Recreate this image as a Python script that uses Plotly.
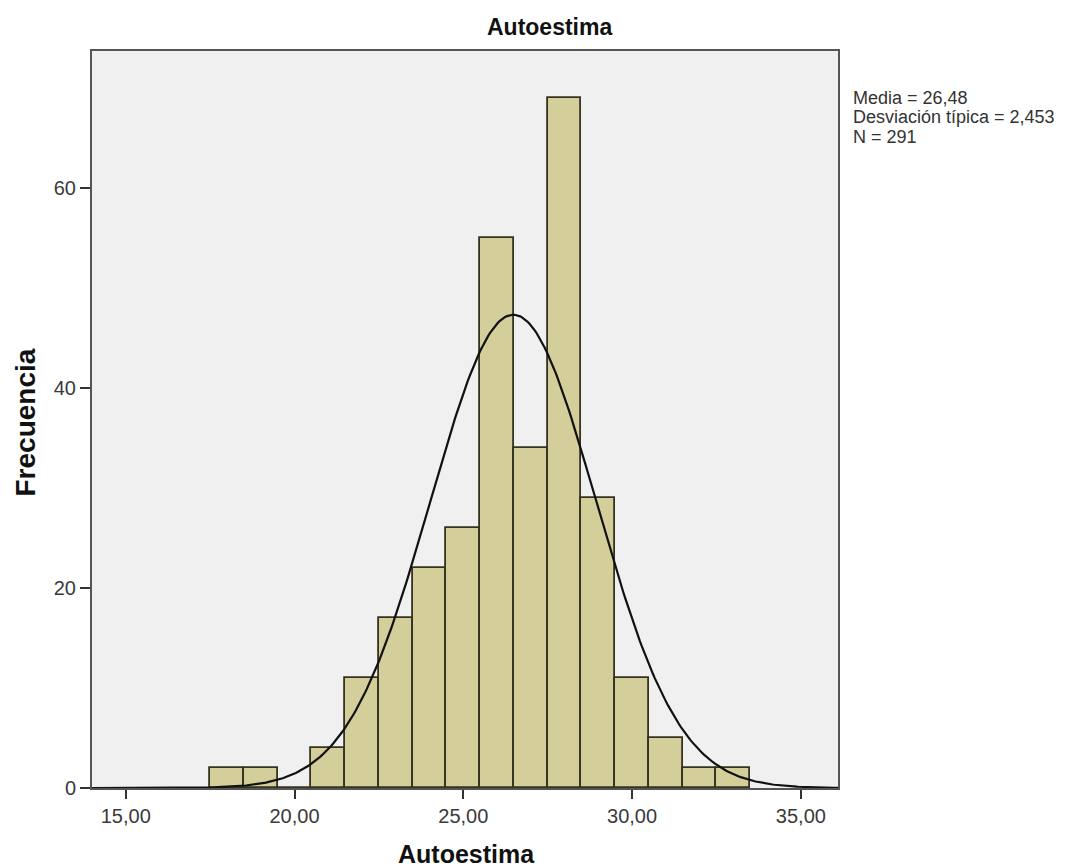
import numpy as np
import plotly.graph_objects as go

# Data
bin_centers = [18, 19, 20, 21, 22, 23, 24, 25, 26, 27, 28, 29, 30, 31, 32, 33]
frequencies = [2, 2, 0, 4, 11, 17, 22, 26, 55, 34, 69, 29, 11, 5, 2, 2]
x_tick_vals = [15, 20, 25, 30, 35]
x_tick_text = ["15,00", "20,00", "25,00", "30,00", "35,00"]
y_tick_vals = [0, 20, 40, 60]
mean_val = 26.48
sd_val = 2.453
n_val = 291
bin_width = 1.0
stats_lines = ["Media = 26,48", "Desviación típica = 2,453", "N = 291"]

X_RANGE = [14.0, 36.1]
Y_RANGE = [0, 73.7]

# Fitted normal curve from the reported statistics
xc = np.linspace(X_RANGE[0], X_RANGE[1], 400)
yc = n_val * bin_width / (sd_val * np.sqrt(2 * np.pi)) * np.exp(-0.5 * ((xc - mean_val) / sd_val) ** 2)

fig = go.Figure()
fig.add_trace(go.Bar(
    x=bin_centers, y=frequencies, width=bin_width,
    marker=dict(color="#d3ce9a", line=dict(color="#35331f", width=1.8)),
    hoverinfo="x+y",
))
fig.add_trace(go.Scatter(
    x=xc, y=yc, mode="lines", line=dict(color="#111111", width=2.2), hoverinfo="skip",
))

font_main = "Liberation Sans, Arial, sans-serif"

W, H = 1079, 868
ML, MR, MT, MB = 92, 241, 51, 80

fig.update_layout(
    width=W, height=H,
    margin=dict(l=ML, r=MR, t=MT, b=MB),
    paper_bgcolor="white", plot_bgcolor="#f0f0f0",
    showlegend=False, bargap=0,
    font=dict(family=font_main, color="#333333"),
)
fig.update_xaxes(
    range=X_RANGE, tickvals=x_tick_vals, ticktext=x_tick_text,
    ticks="outside", ticklen=9, tickwidth=2, tickcolor="#333333",
    tickfont=dict(size=20, color="#3a3a3a", family=font_main),
    showgrid=False, zeroline=False,
    showline=True, linecolor="#555555", linewidth=2, mirror=True,
)
fig.update_yaxes(
    range=Y_RANGE, tickvals=y_tick_vals,
    ticks="outside", ticklen=10, tickwidth=2, tickcolor="#333333",
    tickfont=dict(size=20, color="#3a3a3a", family=font_main),
    showgrid=False, zeroline=False,
    showline=True, linecolor="#555555", linewidth=2, mirror=True,
)

plot_h = H - MT - MB
plot_w = W - ML - MR

def py(px):
    return (H - MB - px) / plot_h

def px_(x):
    return (x - ML) / plot_w

annotations = [
    dict(text="<b>Autoestima</b>", x=px_(549), y=py(27), xref="paper", yref="paper",
         xanchor="center", yanchor="middle", showarrow=False,
         font=dict(size=23, color="#111111", family=font_main)),
    dict(text="<b>Autoestima</b>", x=px_(466.5), y=py(854), xref="paper", yref="paper",
         xanchor="center", yanchor="middle", showarrow=False,
         font=dict(size=25, color="#111111", family=font_main)),
    dict(text="<b>Frecuencia</b>", x=px_(25), y=py(422.5), xref="paper", yref="paper",
         xanchor="center", yanchor="middle", showarrow=False, textangle=-90,
         font=dict(size=28, color="#111111", family=font_main)),
]
# stats box lines (tight line spacing)
for i, line in enumerate(stats_lines):
    annotations.append(dict(
        text=line, x=px_(851), y=py(98 + i * 19.5), xref="paper", yref="paper",
        xanchor="left", yanchor="middle", showarrow=False,
        font=dict(size=18, color="#333333", family=font_main),
    ))
fig.update_layout(annotations=annotations)

fig.write_html(
    "out.html",
    config={"displayModeBar": False},
    post_script="document.body.style.margin='0';document.body.style.padding='0';",
)
